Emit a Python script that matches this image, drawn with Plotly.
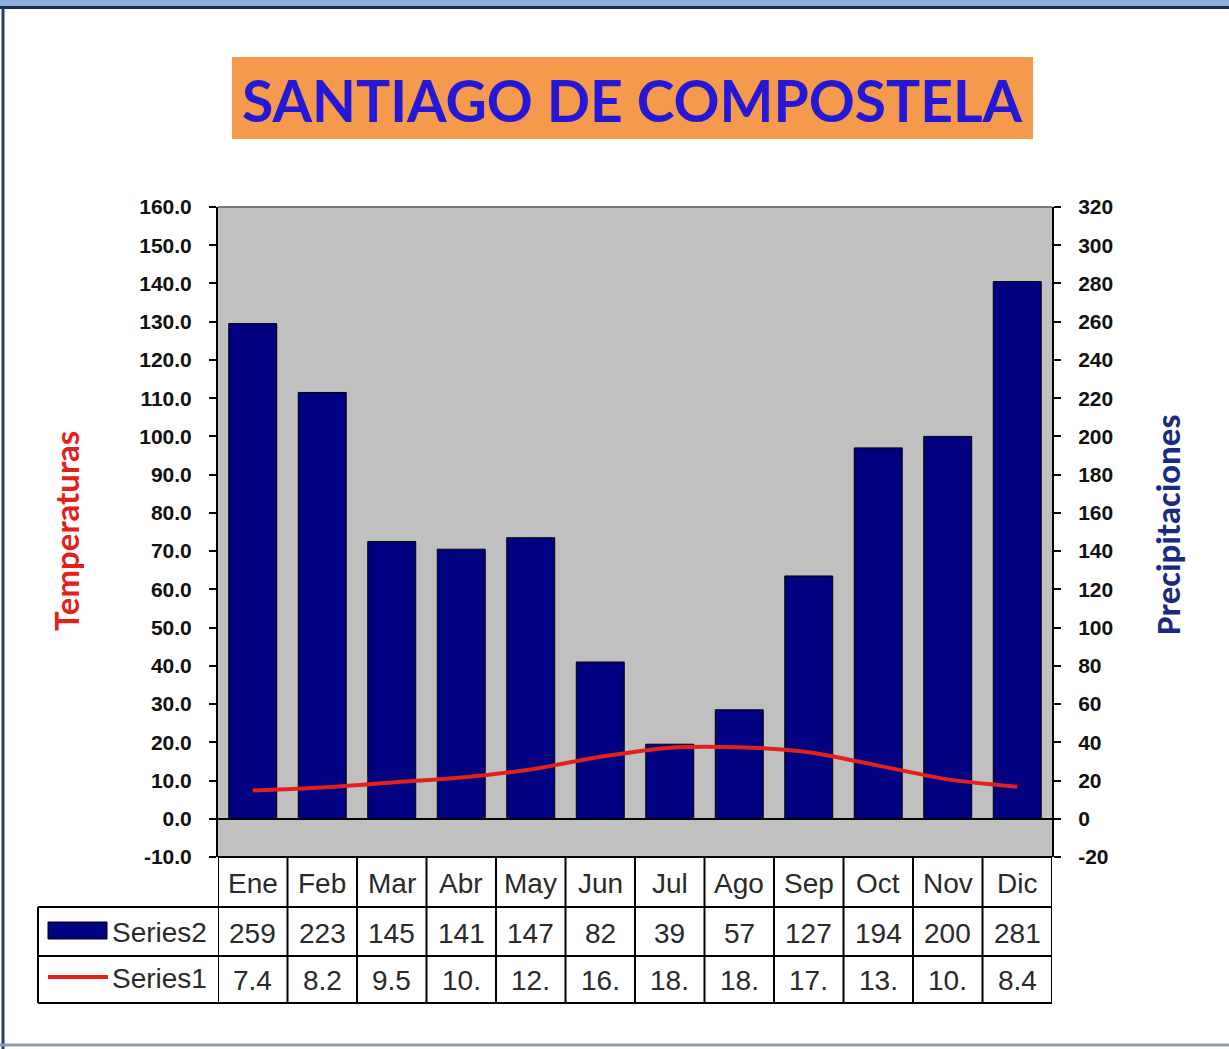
import plotly.graph_objects as go

months = ["Ene", "Feb", "Mar", "Abr", "May", "Jun", "Jul", "Ago", "Sep", "Oct", "Nov", "Dic"]
precip = [259, 223, 145, 141, 147, 82, 39, 57, 127, 194, 200, 281]
temps = [7.4, 8.2, 9.5, 10.8, 12.9, 16.2, 18.6, 18.7, 17.4, 13.9, 10.3, 8.4]
temp_ticks = [v * 10 for v in range(-1, 17)]
precip_ticks = [v * 20 for v in range(-1, 17)]

W, H = 1229, 1049
L, R, T, B = 218, 1052, 207, 857


def px(xp):
    return (xp - L) / (R - L)


def py(yp):
    return (B - yp) / (B - T)


fig = go.Figure()
fig.add_trace(go.Bar(
    x=months, y=precip, yaxis="y", name="Series2",
    marker=dict(color="#000080", line=dict(color="#000000", width=1)),
    showlegend=False,
))
fig.add_trace(go.Scatter(
    x=months, y=temps, yaxis="y2", name="Series1", mode="lines",
    line=dict(color="#e3201b", width=4, shape="spline", smoothing=0.8),
    showlegend=False,
))

shapes = []
annotations = []

# window frame
shapes.append(dict(type="rect", xref="paper", yref="paper", x0=px(0), x1=px(W), y0=py(0), y1=py(6),
                   fillcolor="#8fb1dd", line=dict(width=0), layer="above"))
shapes.append(dict(type="line", xref="paper", yref="paper", x0=px(0), x1=px(W), y0=py(7.5), y1=py(7.5),
                   line=dict(color="#1f2d4a", width=3), layer="above"))
shapes.append(dict(type="line", xref="paper", yref="paper", x0=px(3), x1=px(3), y0=py(8), y1=py(H),
                   line=dict(color="#2b3f66", width=3), layer="above"))
shapes.append(dict(type="line", xref="paper", yref="paper", x0=px(0), x1=px(W), y0=py(1045), y1=py(1045),
                   line=dict(color="#8a9bb5", width=3), layer="above"))

# title box
shapes.append(dict(type="rect", xref="paper", yref="paper", x0=px(232), x1=px(1033), y0=py(57), y1=py(139),
                   fillcolor="#f5994c", line=dict(width=0)))
annotations.append(dict(text="<b>SANTIAGO DE COMPOSTELA</b>", xref="paper", yref="paper",
                        x=px(632), y=py(100), showarrow=False, xanchor="center", yanchor="middle",
                        font=dict(family="Comic Sans MS, Lato, DejaVu Sans", size=57, color="#2418d6")))

# axis titles
annotations.append(dict(text="<b>Temperaturas</b>", xref="paper", yref="paper", x=px(66), y=py(531),
                        showarrow=False, textangle=-90, xanchor="center", yanchor="middle",
                        font=dict(family="Comic Sans MS, Lato, DejaVu Sans", size=33, color="#e3201b")))
annotations.append(dict(text="<b>Precipitaciones</b>", xref="paper", yref="paper", x=px(1168), y=py(525),
                        showarrow=False, textangle=-90, xanchor="center", yanchor="middle",
                        font=dict(family="Calibri, Carlito, Lato, DejaVu Sans", size=35, color="#1a2a80")))

# data table
lc = dict(color="#000000", width=2)
shapes.append(dict(type="line", xref="paper", yref="paper", x0=px(L), x1=px(R), y0=py(857), y1=py(857), line=lc))
for yy in (907, 956, 1003):
    shapes.append(dict(type="line", xref="paper", yref="paper", x0=px(38), x1=px(R), y0=py(yy), y1=py(yy), line=lc))
shapes.append(dict(type="line", xref="paper", yref="paper", x0=px(38), x1=px(38), y0=py(907), y1=py(1003), line=lc))
for i in range(len(months) + 1):
    shapes.append(dict(type="line", xref="x", yref="paper", x0=i - 0.5, x1=i - 0.5, y0=py(857), y1=py(1003), line=lc))

cell_font = dict(family="Liberation Sans, Arial", size=28, color="#2a2a2a")
for i, m in enumerate(months):
    annotations.append(dict(text=m, xref="x", yref="paper", x=i, y=py(883), showarrow=False,
                            xanchor="center", yanchor="middle", font=cell_font))
    annotations.append(dict(text=str(precip[i]), xref="x", yref="paper", x=i, y=py(933), showarrow=False,
                            xanchor="center", yanchor="middle", font=cell_font))
    annotations.append(dict(text=f"{temps[i]:.1f}"[:3], xref="x", yref="paper", x=i, y=py(980), showarrow=False,
                            xanchor="center", yanchor="middle", font=cell_font))

# legend keys
shapes.append(dict(type="rect", xref="paper", yref="paper", x0=px(48), x1=px(107), y0=py(922), y1=py(939),
                   fillcolor="#000080", line=dict(color="#000000", width=1)))
shapes.append(dict(type="line", xref="paper", yref="paper", x0=px(48), x1=px(108), y0=py(977), y1=py(977),
                   line=dict(color="#e3201b", width=4)))
annotations.append(dict(text="Series2", xref="paper", yref="paper", x=px(110), y=py(932), showarrow=False,
                        xanchor="left", yanchor="middle", font=cell_font))
annotations.append(dict(text="Series1", xref="paper", yref="paper", x=px(110), y=py(978), showarrow=False,
                        xanchor="left", yanchor="middle", font=cell_font))

tick_font = dict(family="Liberation Sans, Arial", size=21, color="#111111")

fig.update_layout(
    width=W, height=H,
    margin=dict(l=L, r=W - R, t=T, b=H - B, pad=0),
    paper_bgcolor="#ffffff",
    plot_bgcolor="#c0c0c0",
    bargap=0.31,
    xaxis=dict(type="category", showticklabels=False, ticks="", showgrid=False, zeroline=False,
               showline=False, range=[-0.5, 11.5]),
    yaxis=dict(side="right", range=[-20, 320], tickvals=precip_ticks,
               ticktext=[f"<b>{v}</b>" for v in precip_ticks],
               showgrid=False, zeroline=False, showline=True, linecolor="#000000", linewidth=2,
               ticks="outside", ticklen=7, tickcolor="#000000", tickwidth=2, tickfont=tick_font,
               ticklabelstandoff=13),
    yaxis2=dict(side="left", overlaying="y", range=[-10, 160], tickvals=temp_ticks,
                ticktext=[f"<b>{v:.1f}</b>" for v in temp_ticks],
                showgrid=False, zeroline=True, zerolinecolor="#000000", zerolinewidth=2,
                showline=True, linecolor="#000000", linewidth=2,
                ticks="outside", ticklen=7, tickcolor="#000000", tickwidth=2, tickfont=tick_font,
                ticklabelstandoff=13),
    shapes=shapes,
    annotations=annotations,
)

fig.add_shape(type="line", xref="paper", yref="paper", x0=0, x1=1, y0=1, y1=1,
              line=dict(color="#777777", width=2))

fig.write_html("out.html", config={"displayModeBar": False},
               post_script="document.body.style.margin='0';")
